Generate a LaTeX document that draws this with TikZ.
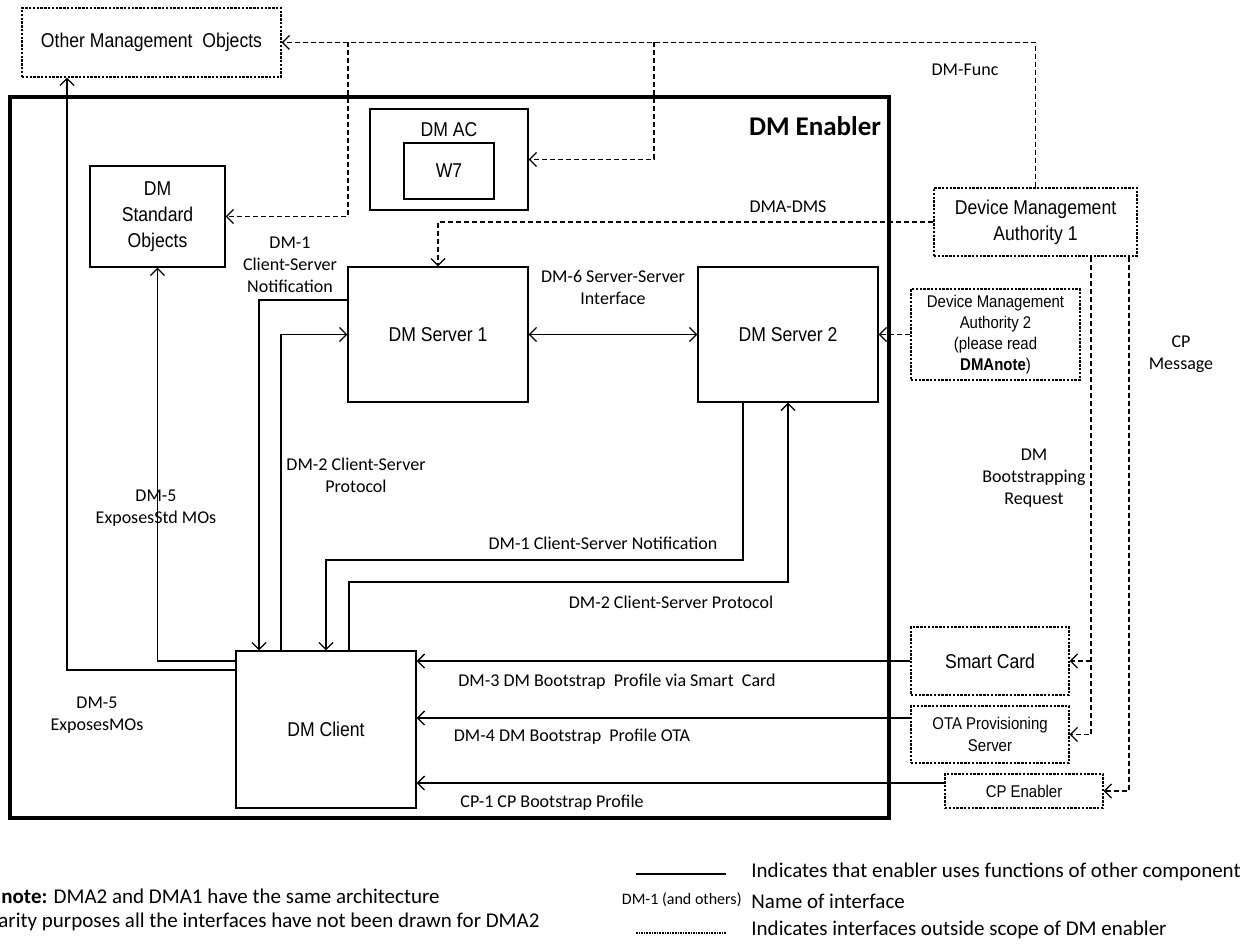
\documentclass[tikz,border=0pt]{standalone}
\usepackage{fontspec}
\setmainfont{Carlito}
\newfontfamily\boxfont[FakeStretch=0.88]{Liberation Sans}
\usetikzlibrary{arrows.meta}
\begin{document}
\begin{tikzpicture}[x=0.5pt,y=-0.5pt,
  box/.style={draw, line width=0.65pt, inner sep=0pt, align=center,
    font=\boxfont\fontsize{10}{13}\selectfont},
  dbox/.style={box, dash pattern=on 1.2pt off 0.7pt},
  conn/.style={line width=0.65pt},
  arr/.style={conn, -{Straight Barb[length=3.5pt,width=7pt]}},
  arrtwo/.style={conn, {Straight Barb[length=3.5pt,width=7pt]}-{Straight Barb[length=3.5pt,width=7pt]}},
  dconn/.style={line width=0.6pt, dash pattern=on 2.5pt off 1.5pt},
  darr/.style={dconn, -{Straight Barb[length=3.5pt,width=7pt]}},
  lab/.style={font=\fontsize{9}{11}\selectfont, align=center, inner sep=0pt},
  legtext/.style={font=\fontsize{10.5}{12}\selectfont, inner sep=0pt, anchor=west}
]
\useasboundingbox (0,0) rectangle (1240,946);

% ---------- boxes ----------
\node[box, line width=1.75pt, minimum width=439.5pt, minimum height=360.5pt] (enabler) at (449.5,457.5) {};
\node[font=\bfseries\fontsize{13.5}{15}\selectfont, inner sep=0pt] (enablertitle) at (815,126) {DM Enabler};

\node[dbox, minimum width=129.5pt, minimum height=34.5pt] (omo) at (151.5,42.5) {Other Management\ \ Objects};
\node[box, minimum width=79pt, minimum height=50.5pt] (dmac) at (449,159.5) {};
\node[font=\boxfont\fontsize{10}{12}\selectfont, inner sep=0pt] (dmactext) at (449,130) {DM AC};
\node[box, minimum width=45pt, minimum height=28pt] (w7) at (449,171) {W7};
\node[box, minimum width=67.5pt, minimum height=50.5pt] (dmstd) at (157.5,216.5) {DM\\Standard\\Objects};
\node[box, minimum width=90pt, minimum height=67.5pt] (srv1) at (438,334.5) {DM Server 1};
\node[box, minimum width=90pt, minimum height=67.5pt] (srv2) at (788,334.5) {DM Server 2};
\node[box, minimum width=90pt, minimum height=78.5pt] (client) at (326,729.5) {DM Client};

\node[dbox, minimum width=101.5pt, minimum height=34pt] (dma1) at (1035.5,222) {Device Management\\Authority 1};
\node[dbox, minimum width=84.5pt, minimum height=45.5pt, font=\boxfont\fontsize{8.5}{10.5}\selectfont] (dma2) at (995.5,334.5) {Device Management\\Authority 2\\(please read\\\textbf{DMAnote})};
\node[dbox, minimum width=79pt, minimum height=34pt] (smart) at (990,661) {Smart Card};
\node[dbox, minimum width=79pt, minimum height=28.5pt, font=\boxfont\fontsize{8.5}{11}\selectfont] (ota) at (990,734.5) {OTA Provisioning\\Server};
\node[dbox, minimum width=79pt, minimum height=17pt, font=\boxfont\fontsize{8.5}{10}\selectfont] (cpen) at (1024,791) {CP Enabler};

% ---------- helper coordinates ----------
\coordinate (c1) at (67,670);
\coordinate (c2) at (157.5,661);
\coordinate (c3) at (259,300);
\coordinate (c4) at (281,334.5);
\coordinate (c5a) at (743,560);
\coordinate (c5b) at (326,560);
\coordinate (c6a) at (349,582);
\coordinate (c6b) at (788,582);
\coordinate (c9) at (0,718);
\coordinate (c10) at (0,783);
\coordinate (c12) at (654,159.5);
\coordinate (c13) at (348,216.5);
\coordinate (c14) at (438,222);
\coordinate (c16) at (1091,734.5);
\coordinate (c17) at (1129,791);

% ---------- solid connectors ----------
\draw[arr] (client.west |- c1) -- (c1) -- (c1 |- omo.south);
\draw[arr] (client.west |- c2) -- (c2) -- (dmstd.south);
\draw[arr] (srv1.west |- c3) -- (c3) -- (c3 |- client.north);
\draw[arr] (c4 |- client.north) -- (c4) -- (srv1.west);
\draw[arrtwo] (srv1.east) -- (srv2.west);
\draw[arr] (c5a |- srv2.south) -- (c5a) -- (c5b) -- (client.north);
\draw[arr] (c6a |- client.north) -- (c6a) -- (c6b) -- (srv2.south);
\draw[arr] (smart.west) -- (smart.west -| client.east);
\draw[arr] (ota.west |- c9) -- (client.east |- c9);
\draw[arr] (cpen.west |- c10) -- (client.east |- c10);

% ---------- dashed connectors ----------
\draw[darr] (dma1.north) -- (dma1.north |- omo.east) -- (omo.east);
\draw[darr] (c12 |- omo.east) -- (c12) -- (dmac.east);
\draw[darr] (c13 |- omo.east) -- (c13) -- (dmstd.east);
\draw[darr] (dma1.west) -- (c14) -- (srv1.north);
\draw[darr] (dma2.west) -- (srv2.east);
\draw[darr] (dma1.south -| c16) -- (c16) -- (ota.east);
\draw[darr] (c16 |- smart.east) -- (smart.east);
\draw[darr] (dma1.south -| c17) -- (c17) -- (cpen.east);

% ---------- labels ----------
\node[lab] (lfunc) at (965,70) {DM-Func};
\node[lab] (ldmadms) at (788,207) {DMA-DMS};
\node[lab] (ldm1a) at (290,265) {DM-1\\Client-Server\\Notification};
\node[lab] (ldm6) at (613,287) {DM-6 Server-Server\\Interface};
\node[lab] (ldm2a) at (356,475) {DM-2 Client-Server\\Protocol};
\node[lab] (ldm5a) at (156,508) {DM-5\\ExposesStd MOs};
\node[lab] (ldm1b) at (603,543) {DM-1 Client-Server Notification};
\node[lab] (ldm2b) at (671,602) {DM-2 Client-Server Protocol};
\node[lab] (ldm3) at (617,682) {DM-3 DM Bootstrap\ \ Profile via Smart\ \ Card};
\node[lab] (ldm4) at (572,737) {DM-4 DM Bootstrap\ \ Profile OTA};
\node[lab] (lcp1) at (552,803) {CP-1 CP Bootstrap Profile};
\node[lab] (ldm5b) at (97,715) {DM-5\\ExposesMOs};
\node[lab] (lcpm) at (1181,354) {CP\\Message};
\node[lab] (lboot) at (1034,478) {DM\\Bootstrapping\\Request};

% ---------- notes ----------
\node[legtext] (note1) at (1,896) {\textbf{note:} DMA2 and DMA1 have the same architecture};
\node[legtext] (note2) at (-2,922) {arity purposes all the interfaces have not been drawn for DMA2};

% ---------- legend ----------
\coordinate (lg1a) at (636,874);
\coordinate (lg1b) at (726,874);
\coordinate (lg3a) at (636,933);
\coordinate (lg3b) at (726,933);
\draw[line width=0.65pt] (lg1a) -- (lg1b);
\draw[line width=0.6pt, dash pattern=on 0.8pt off 0.5pt] (lg3a) -- (lg3b);
\node[legtext] (leg1) at (751,872) {Indicates that enabler uses functions of other component};
\node[font=\fontsize{8}{10}\selectfont, inner sep=0pt, anchor=east] (leg2a) at (742,900) {DM-1 (and others)};
\node[legtext] (leg2) at (751,901) {Name of interface};
\node[legtext] (leg3) at (751,930) {Indicates interfaces outside scope of DM enabler};
\end{tikzpicture}
\end{document}
